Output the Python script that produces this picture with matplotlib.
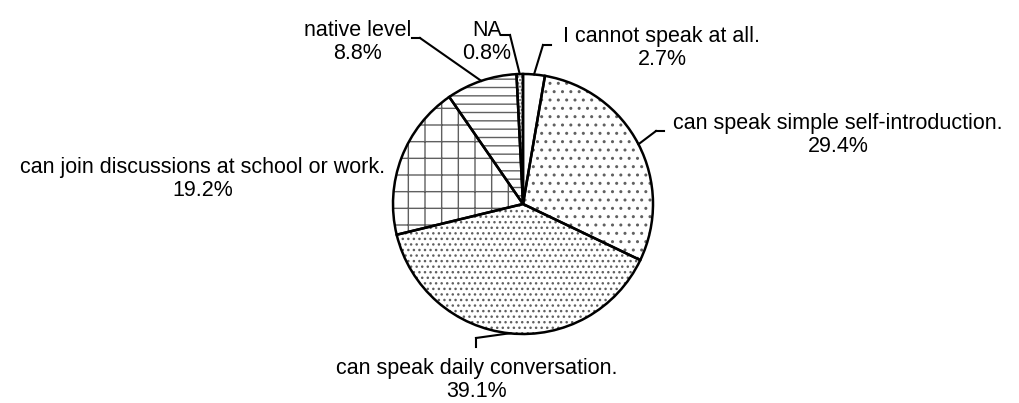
import numpy as np
import matplotlib.pyplot as plt

labels = ["I cannot speak at all.", "can speak simple self-introduction.",
          "can speak daily conversation.", "can join discussions at school or work.",
          "native level", "NA"]
values = [2.7, 29.4, 39.1, 19.2, 8.8, 0.8]
hatches = ["", "..", "...", "+", "--", "....."]

# label text centres (pixels from top-left) and leader-line ends
label_pos = [(662, 48), (838, 135), (477, 380), (203, 179), (358, 42), (487, 42)]
leader_end = [(543, 45), (656, 131), (476, 338), None, (420, 38), (510, 35)]
tick_dir = ["h", "h", "v", None, "h", "h"]

plt.rcParams['font.family'] = ['Liberation Sans', 'DejaVu Sans']
plt.rcParams['hatch.linewidth'] = 1.0

W, H = 1019, 403
fig = plt.figure(figsize=(W / 100, H / 100), dpi=100)
ax = fig.add_axes([0, 0, 1, 1])


def Y(y):
    return H - y


cx, cy, r = 523, 204, 130

# hatched fill, grey pattern
wedges, _ = ax.pie(values, startangle=90, counterclock=False, center=(cx, Y(cy)),
                   radius=r, frame=True,
                   wedgeprops=dict(facecolor='white', edgecolor='#606060', linewidth=0))
for w, h in zip(wedges, hatches):
    w.set_hatch(h)
# black outlines on top
ax.pie(values, startangle=90, counterclock=False, center=(cx, Y(cy)), radius=r, frame=True,
       wedgeprops=dict(fill=False, edgecolor='black', linewidth=1.8))
ax.set_xlim(0, W)
ax.set_ylim(0, H)
ax.set_aspect('equal')
ax.axis('off')

cum = np.cumsum([0] + values)
for i, lab in enumerate(labels):
    tx, ty = label_pos[i]
    ax.text(tx, Y(ty), f"{lab}\n{values[i]:.1f}%", ha='center', va='center',
            fontsize=15.5, linespacing=1.15)
    if leader_end[i] is None:
        continue
    mid = 90 - (cum[i] + values[i] / 2) * 3.6
    px = cx + r * np.cos(np.radians(mid))
    py = Y(cy) + r * np.sin(np.radians(mid))
    ex, ey = leader_end[i][0], Y(leader_end[i][1])
    ax.plot([px, ex], [py, ey], color='black', lw=1.5)
    if tick_dir[i] == "h":
        dx = 8 if ex > px else -8
        ax.plot([ex, ex + dx], [ey, ey], color='black', lw=1.5)
    else:
        ax.plot([ex, ex], [ey, ey - 9], color='black', lw=1.5)

fig.savefig("out.png", dpi=100)
